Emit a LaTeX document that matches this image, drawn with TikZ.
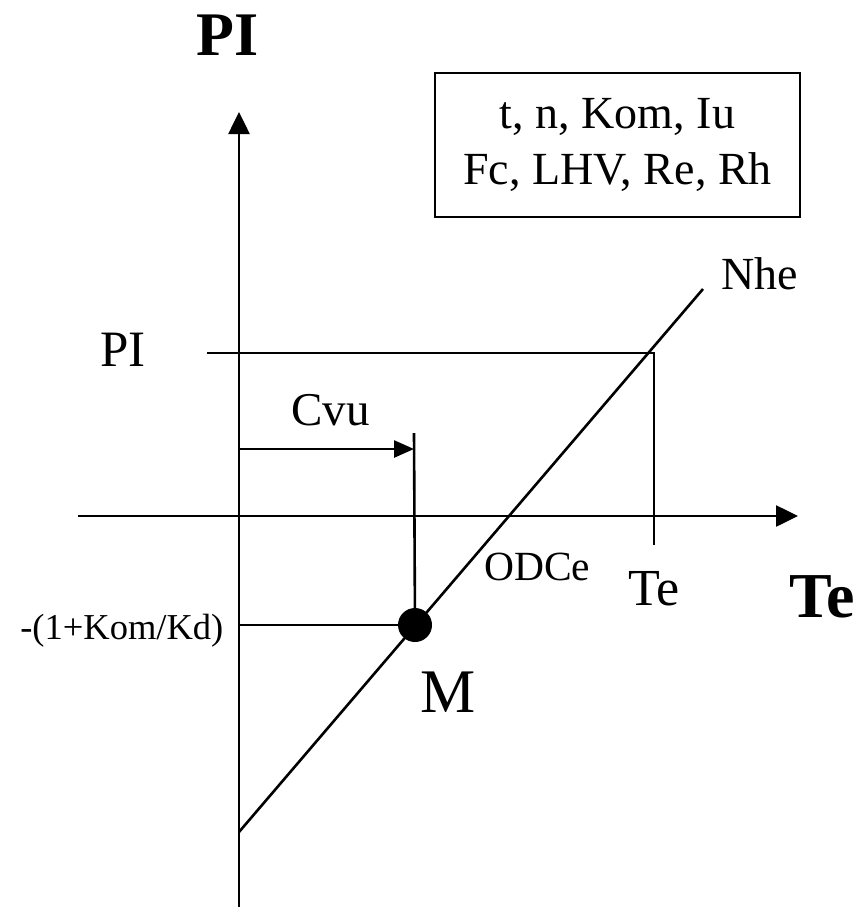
\documentclass[tikz,border=0pt]{standalone}
\usepackage{fontspec}
\setmainfont{Liberation Serif}
\usetikzlibrary{arrows.meta,positioning,calc}
\newcommand{\fs}[1]{\fontsize{#1}{#1}\selectfont}

\begin{document}
\begin{tikzpicture}[x=1pt,y=-1pt, line width=2.6pt,
  lbl/.style={anchor=base west,inner sep=0pt},
  big/.style={lbl,font=\fs{62}\bfseries},
  box/.style={draw,line width=2.4pt,minimum width=365pt,minimum height=144pt,inner sep=0pt,align=center,font=\fontsize{46}{56}\selectfont},
  arr/.style={-{Triangle[length=22pt,width=21pt]}},
  sarr/.style={-{Triangle[length=20pt,width=17pt]}}]
\useasboundingbox (0,0) rectangle (867,908);
% axes
\coordinate (yb) at (239,907); \coordinate (yt) at (239,112);
\coordinate (xl) at (78,516); \coordinate (xr) at (798,516);
\draw[arr] (yb) -- (yt);
\draw[arr] (xl) -- (xr);
\node[big] (ptitle) at (195,55) {PI};
\node[lbl,font=\fs{64}\bfseries] (ttitle) at (788,617) {Te};
% parameter box
\node[box] (par) at (617.5,145) {t, n, Kom, Iu\\Fc, LHV, Re, Rh};
% Nhe line
\coordinate (nb) at (239,832); \coordinate (nt) at (703,289);
\draw (nb) -- (nt);
\node[lbl,font=\fs{46}] (nhe) at (720,289) {Nhe};
% PI level and Te
\coordinate (pl) at (207,353); \coordinate (pc) at (654,353); \coordinate (pd) at (654,545);
\draw (pl) -- (pc) -- (pd);
\node[lbl,font=\fs{51}] (pi) at (99,366) {PI};
\node[lbl,font=\fs{52}] (te) at (627,605) {Te};
\node[lbl,font=\fs{41.5}] (odce) at (483,580) {ODCe};
% point M and Cvu
\node[circle,fill,inner sep=0pt,minimum size=34pt] (m) at (415,625) {};
\node[lbl,font=\fs{62}] (ml) at (419,712) {M};
\coordinate (mh) at (239,625); \coordinate (cv0) at (239,449);
\coordinate (cv1) at (414,449); \coordinate (cvt) at (414,433);
\draw (mh) -- (m.center);
\draw (cvt) -- (m.center);
\draw[sarr] (cv0) -- (cv1);
\node[lbl,font=\fs{47}] (cvu) at (290,425) {Cvu};
\node[lbl,font=\fs{36.5}] (kd) at (19,639) {-(1+Kom/Kd)};
\end{tikzpicture}
\end{document}
